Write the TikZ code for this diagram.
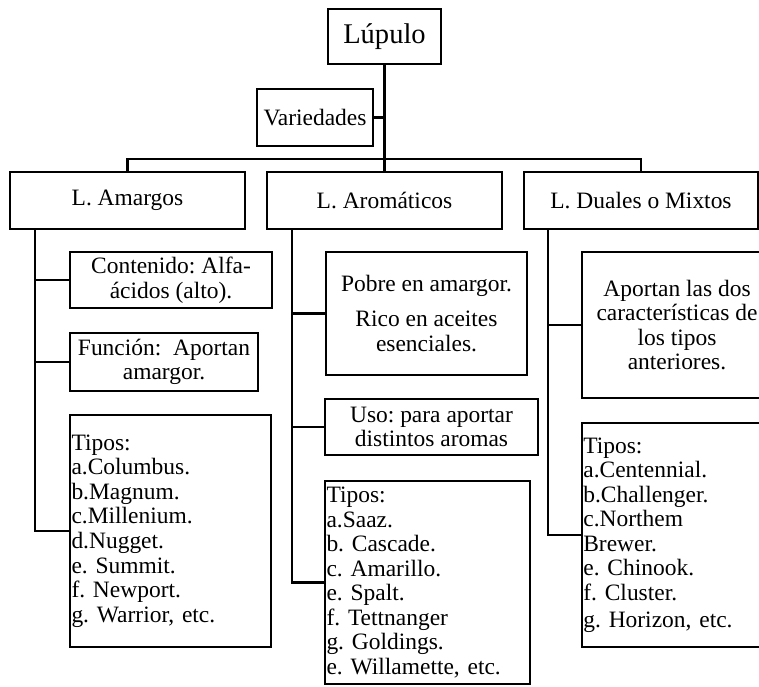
\documentclass[tikz,border=0pt]{standalone}
\usepackage{fontspec}
\setmainfont{Liberation Serif}
\frenchspacing
\newcommand\tx{\fontsize{17.6}{18.4}\selectfont}
\newcommand\rama[2]{\draw (#1.west) -- (#1.west -| #2);}
\tikzset{
    caja/.style n args={2}{draw,inner sep=0pt,font=\tx,align=center,
        minimum width=#1*0.75pt,minimum height=#2*0.75pt},
    lista/.style={align=left,inner xsep=1pt,text width=#1},
}

\begin{document}
\begin{tikzpicture}[x=0.75pt,y=-0.75pt,line width=1.8pt]
    \clip (0,0) rectangle (759,686);
    \node(lupulo)[caja={113}{55},font=\fontsize{21.4}{24}\selectfont] at (384.5,36.5) {Lúpulo};
    \node(variedades)[caja={116}{57}] at (315,117.5) {Variedades};
    \node(amargos)[caja={235}{57}] at (127.5,200.5) {L. Amargos};
    \node(aromaticos)[caja={235}{57}] at (384.5,200.5) {L. Aromáticos};
    \node(duales)[caja={234}{57}] at (641,200.5) {L. Duales o Mixtos};
    \node(contenido)[caja={202}{56}] at (171,280) {Contenido: Alfa-\\ácidos (alto).};
    \node(funcion)[caja={188}{58}] at (164,362) {Función:~ Aportan\\amargor.};
    \node(tiposam)[caja={201}{232},lista=148.5pt] at (170.5,531)
        {Tipos:\\a.Columbus.\\b.Magnum.\\c.Millenium.\\d.Nugget.\\e. Summit.\\f. Newport.\\g. Warrior, etc.};
    \node(pobre)[caja={201}{123}] at (426.5,313.5) {Pobre en amargor.\\[8pt]Rico en aceites\\esenciales.};
    \node(uso)[caja={213}{56}] at (431.5,427) {Uso: para aportar\\distintos aromas};
    \node(tiposar)[caja={205}{203},lista=151.5pt] at (427.5,582.5)
        {Tipos:\\a.Saaz.\\b. Cascade.\\c. Amarillo.\\e. Spalt.\\f. Tettnanger\\g. Goldings.\\e. Willamette, etc.};
    \node(aportan)[caja={190}{146}] at (677,325) {Aportan las dos\\características de\\los tipos\\anteriores.};
    \node(tiposdu)[caja={190}{224},lista=140.5pt] at (677,535)
        {Tipos:\\a.Centennial.\\b.Challenger.\\c.Northem\\Brewer.\\e. Chinook.\\f. Cluster.\\[2pt]g. Horizon, etc.};

    \coordinate(barra) at (0,159);
    \coordinate(ea) at (35,0);
    \coordinate(er) at (292,0);
    \coordinate(ed) at (548,0);

    \draw (lupulo.south) -- (aromaticos.north);
    \draw (variedades.east) -- (variedades.east -| lupulo.south);
    \draw (amargos.north) -- (amargos.north |- barra) -- (duales.north |- barra) -- (duales.north);

    \draw (amargos.south -| ea) |- (tiposam.west);
    \rama{contenido}{ea} \rama{funcion}{ea}
    \draw (aromaticos.south -| er) |- (tiposar.west);
    \rama{pobre}{er} \rama{uso}{er}
    \draw (duales.south -| ed) |- (tiposdu.west);
    \rama{aportan}{ed}
\end{tikzpicture}
\end{document}
